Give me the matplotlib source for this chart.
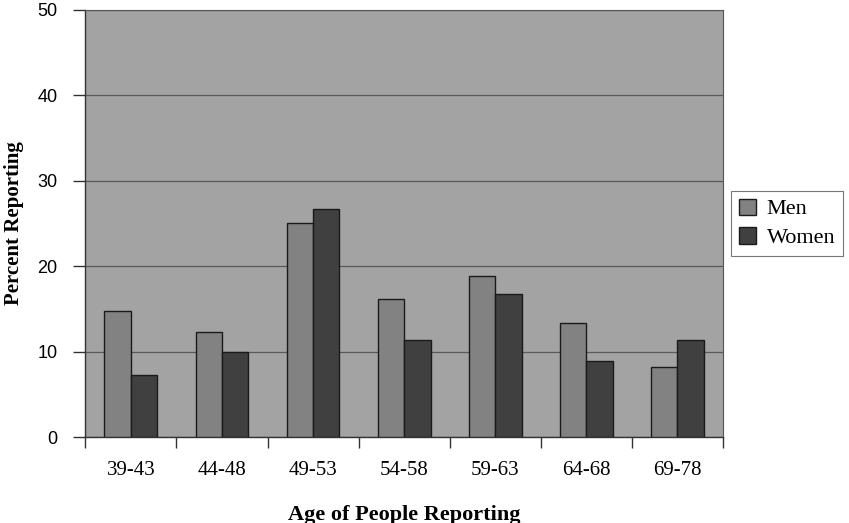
import matplotlib
matplotlib.use("Agg")
import matplotlib.pyplot as plt
import numpy as np

categories = ["39-43", "44-48", "49-53", "54-58", "59-63", "64-68", "69-78"]
men = [14.7, 12.3, 25.0, 16.2, 18.8, 13.3, 8.2]
women = [7.3, 9.9, 26.7, 11.4, 16.7, 8.9, 11.4]

fig = plt.figure(figsize=(8.49, 5.23), dpi=100)
ax = fig.add_axes([0.1005, 0.1644, 0.7511, 0.8171])
ax.set_facecolor("#a3a3a3")

x = np.arange(len(categories))
w = 0.29
ax.bar(x - w / 2, men, width=w, color="#828282", edgecolor="#1a1a1a", linewidth=1.0, label="Men", zorder=3)
ax.bar(x + w / 2, women, width=w, color="#404040", edgecolor="#1a1a1a", linewidth=1.0, label="Women", zorder=3)

ax.set_xlim(-0.5, len(categories) - 0.5)
ax.set_ylim(0, 50)
ax.set_yticks([0, 10, 20, 30, 40, 50])
ax.yaxis.grid(True, color="#5a5a5a", linewidth=0.9, zorder=1)
ax.set_axisbelow(True)

ax.set_xticks(x)
ax.set_xticklabels(categories, fontfamily="Liberation Serif", fontsize=15)
ax.set_xticks(np.arange(-0.5, len(categories)), minor=True)
ax.tick_params(axis="x", which="major", length=0, pad=17)
ax.tick_params(axis="x", which="minor", length=8, width=1, color="#333333", direction="out")
ax.tick_params(axis="y", length=9, width=1, color="#333333", direction="out", pad=11)
for lab in ax.get_yticklabels():
    lab.set_fontfamily("Liberation Sans")
    lab.set_fontsize(13)

for s in ["top", "right"]:
    ax.spines[s].set_color("#555555")
    ax.spines[s].set_linewidth(0.8)
for s in ["left", "bottom"]:
    ax.spines[s].set_color("#333333")
    ax.spines[s].set_linewidth(1.0)

ax.set_ylabel("Percent Reporting", fontfamily="Liberation Serif", fontweight="bold", fontsize=15, va="center")
ax.yaxis.set_label_coords(-0.112, 0.5)
ax.set_xlabel("Age of People Reporting", fontfamily="Liberation Serif", fontweight="bold", fontsize=16, labelpad=18)

leg = ax.legend(loc="center left", bbox_to_anchor=(1.013, 0.5), frameon=True, fancybox=False,
                prop={"family": "Liberation Serif", "size": 16}, handlelength=0.75, handleheight=0.75,
                handletextpad=0.5, borderpad=0.35, labelspacing=0.35, borderaxespad=0)
leg.get_frame().set_edgecolor("#555555")
leg.get_frame().set_linewidth(0.8)
for h in leg.legend_handles:
    h.set_edgecolor("#1a1a1a")

fig.savefig("out.png", dpi=100)
